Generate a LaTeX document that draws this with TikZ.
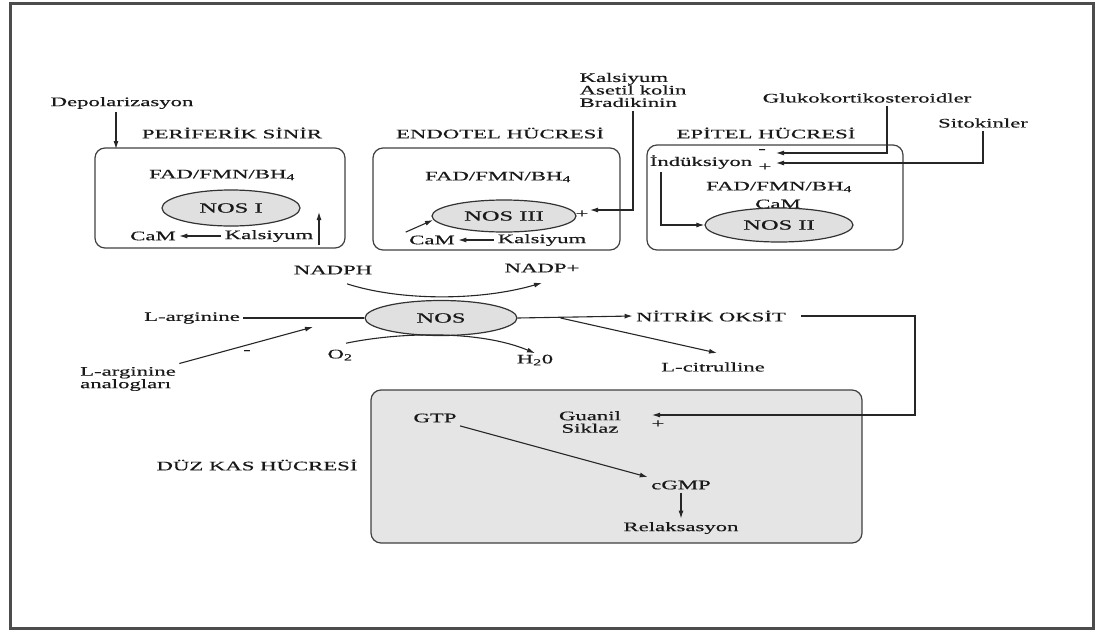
\documentclass[tikz,border=0pt]{standalone}
\usepackage{fontspec}
\setmainfont{Liberation Serif}[FakeStretch=1.75, FakeBold=0.5]
\usetikzlibrary{shapes.geometric, arrows.meta}

\begin{document}
\begin{tikzpicture}[x = 1pt, y = -1pt, font = \fontsize{13}{12.5}\selectfont, text = black!90,
        cell/.style = {draw = black!75, line width = 1.2pt, rounded corners = 10pt, inner sep = 0pt},
        enzyme/.style = {ellipse, draw = black!80, fill = black!12, line width = 1.2pt, inner sep = 0pt, font = \fontsize{14}{14}\selectfont},
        pathway/.style = {draw = black!85, line width = 1.1pt, -{Latex[length = 8pt, width = 5pt]}},
        link/.style = {draw = black!85, line width = 1.1pt}]
        \useasboundingbox (0, 0) rectangle (1097, 632);
        \draw[line width = 3pt, black!70] (10, 3) rectangle (1093, 628);

        \node[cell, minimum width = 250, minimum height = 100] (nerve) at (220, 198) {};
        \node[cell, minimum width = 247, minimum height = 102] (endo) at (496.5, 199) {};
        \node[cell, minimum width = 256, minimum height = 105] (epi) at (775, 197.5) {};
        \node[cell, fill = black!10, minimum width = 491, minimum height = 153] (smooth) at (616.5, 466.5) {};

        \node (depol) at (122, 103) {Depolarizasyon};
        \node (title1) at (232, 133) {PERİFERİK SİNİR};
        \node (fad1) at (222, 175) {FAD/FMN/BH\textsubscript{4}};
        \node[enzyme, minimum width = 138, minimum height = 36] (nos1) at (231, 208) {NOS I};
        \node (cam1) at (153, 236) {CaM};
        \node (ca1) at (269, 236) {Kalsiyum};
        \coordinate (depolin) at (116, 149);
        \coordinate (up1a) at (319, 245);
        \coordinate (up1b) at (319, 212);
        \draw[pathway] (depol.south -| depolin) -- (depolin);
        \draw[pathway] (ca1) -- (cam1);
        \draw[pathway] (up1a) -- (up1b);

        \node (title2) at (500, 133) {ENDOTEL HÜCRESİ};
        \node (fad2) at (498, 177) {FAD/FMN/BH\textsubscript{4}};
        \node[enzyme, minimum width = 144, minimum height = 32] (nos3) at (504, 216) {NOS III};
        \node (cam2) at (432, 240) {CaM};
        \node (ca2) at (542, 240) {Kalsiyum};
        \node[align = left] (stim2) at (633, 90) {Kalsiyum\\Asetil kolin\\Bradikinin};
        \node (plus2) at (582, 214) {+};
        \coordinate (nos3in) at (590, 210);
        \coordinate (cam2tip) at (433, 220);
        \draw[pathway] (ca2) -- (cam2);
        \draw[pathway] (cam2.north west) -- (cam2tip);
        \draw[pathway] (stim2.south) -- (stim2.south |- nos3in) -- (nos3in);

        \node (title3) at (766, 133) {EPİTEL HÜCRESİ};
        \node (glu) at (867, 98) {Glukokortikosteroidler};
        \node (sito) at (983, 123) {Sitokinler};
        \node (indu) at (701, 162) {İndüksiyon};
        \node (minus3) at (762, 151) {-};
        \node (plus3) at (765, 167) {+};
        \node (fad3) at (779, 187) {FAD/FMN/BH\textsubscript{4}};
        \node (cam3) at (778, 204) {CaM};
        \node[enzyme, minimum width = 148, minimum height = 34] (nos2) at (779, 225) {NOS II};
        \coordinate (glutip) at (776, 153);
        \coordinate (sitotip) at (776, 163);
        \coordinate (indudown) at (661, 225);
        \draw[pathway] ([xshift = 20pt]glu.south) |- (glutip);
        \draw[pathway] (sito.south) |- (sitotip);
        \draw[pathway] (indu.south -| indudown) -- (indudown) -- (nos2.west);

        \node (nadph) at (333, 270) {NADPH};
        \node (nadpp) at (542, 268) {NADP+};
        \node (larg) at (192, 318) {L-arginine};
        \node[enzyme, minimum width = 152, minimum height = 35] (nos) at (441, 318) {NOS};
        \node (no) at (711, 316) {NİTRİK OKSİT};
        \node[align = left] (analog) at (128, 379) {L-arginine\\analogları};
        \node (minus) at (247, 352) {-};
        \node (o2) at (340, 355) {O\textsubscript{2}};
        \node (h2o) at (535, 360) {H\textsubscript{2}0};
        \node (lcit) at (713, 367) {L-citrulline};
        \coordinate (analogtip) at (313, 327);
        \coordinate (lcittip) at (717, 353);
        \coordinate (gctip) at (652, 415);
        \draw[link] (larg) -- (nos);
        \draw[pathway] ([xshift = 14pt, yshift = -6pt]nadph.south) .. controls (400, 301) and (480, 301) .. ([yshift = -7pt]nadpp.south);
        \draw[pathway] ([xshift = 6pt, yshift = 3pt]o2.north) .. controls (400, 332) and (480, 330) .. ([yshift = -2pt]h2o.north);
        \draw[pathway] (analog.north east) -- (analogtip);
        \draw[pathway] (nos.east) -- (no.west);
        \draw[pathway] ([xshift = 43pt]nos.east) -- (lcittip);
        \draw[pathway] ([xshift = 12pt]no.east) -- (915, 316) |- (gctip);

        \node[align = center] (gc) at (590, 422) {Guanil\\Siklaz};
        \node (plusgc) at (658, 424) {+};
        \node (gtp) at (435, 418) {GTP};
        \node (cgmp) at (681, 485) {cGMP};
        \node (relax) at (681, 528) {Relaksasyon};
        \node (title4) at (257, 465) {DÜZ KAS HÜCRESİ};
        \draw[pathway] (gtp.south east) -- (cgmp.north west);
        \draw[pathway] (cgmp) -- (relax);
\end{tikzpicture}
\end{document}
